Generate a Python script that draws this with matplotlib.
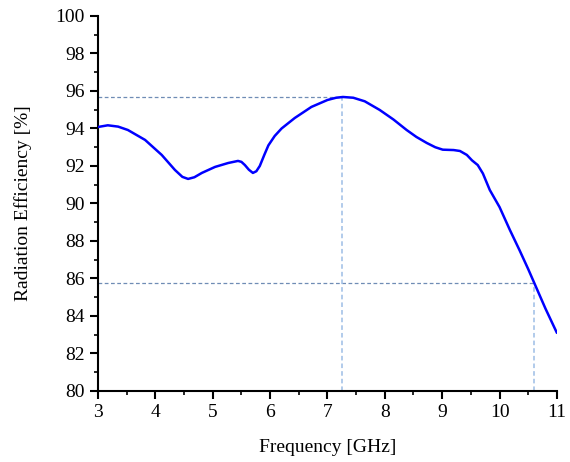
import numpy as np
import matplotlib.pyplot as plt
from matplotlib.ticker import MultipleLocator

# frequency [GHz] / radiation efficiency [%]
freq = [3.0, 3.17, 3.35, 3.52, 3.82, 4.11, 4.34, 4.47, 4.57, 4.68, 4.81, 5.04,
        5.27, 5.44, 5.5, 5.56, 5.63, 5.7, 5.76, 5.82, 5.9, 5.97, 6.08, 6.2,
        6.43, 6.72, 7.0, 7.15, 7.27, 7.45, 7.65, 7.91, 8.15, 8.38, 8.55, 8.73,
        8.88, 9.01, 9.2, 9.31, 9.43, 9.52, 9.62, 9.71, 9.83, 10.0, 10.18,
        10.35, 10.5, 10.65, 10.8, 11.0]
eff = [94.08, 94.17, 94.1, 93.92, 93.39, 92.59, 91.79, 91.42, 91.31, 91.4,
       91.63, 91.95, 92.16, 92.27, 92.22, 92.05, 91.8, 91.63, 91.72, 92.0,
       92.6, 93.1, 93.6, 94.0, 94.56, 95.15, 95.52, 95.64, 95.68, 95.64, 95.45,
       94.99, 94.48, 93.92, 93.55, 93.23, 93.0, 92.87, 92.85, 92.8, 92.59,
       92.3, 92.05, 91.6, 90.72, 89.81, 88.59, 87.5, 86.5, 85.45, 84.4, 83.1]

peak = (7.25, 95.68)
cut = (10.6, 85.76)

plt.rcParams['font.family'] = ['Liberation Serif', 'DejaVu Serif']

fig = plt.figure(figsize=(5.7, 4.62), dpi=100)
ax = fig.add_axes([0.172, 0.1537, 0.805, 0.8117])

ax.plot(freq, eff, color='#0000ff', lw=1.8, zorder=3,
        solid_joinstyle='round', solid_capstyle='round')

# guide lines
ax.plot([3, peak[0]], [peak[1], peak[1]], ls=(0, (3, 2)), color='#6f8cb5', lw=0.9)
ax.plot([3, cut[0]], [cut[1], cut[1]], ls=(0, (3, 2)), color='#6f8cb5', lw=0.9)
ax.plot([peak[0], peak[0]], [80, peak[1]], ls=(0, (3, 2)), color='#9dbde5', lw=1.1)
ax.plot([cut[0], cut[0]], [80, cut[1]], ls=(0, (3, 2)), color='#9dbde5', lw=1.1)

ax.set_xlim(3, 11)
ax.set_ylim(80, 100)
ax.xaxis.set_major_locator(MultipleLocator(1))
ax.xaxis.set_minor_locator(MultipleLocator(0.5))
ax.yaxis.set_major_locator(MultipleLocator(2))
ax.yaxis.set_minor_locator(MultipleLocator(1))

ax.spines['top'].set_visible(False)
ax.spines['right'].set_visible(False)
ax.spines['left'].set_linewidth(1.5)
ax.spines['bottom'].set_linewidth(1.5)
ax.tick_params(which='major', direction='out', length=6, width=1.5, labelsize=14)
ax.tick_params(which='minor', direction='out', length=3, width=1.2)

ax.set_xlabel('Frequency [GHz]', fontsize=14, labelpad=13)
ax.set_ylabel('Radiation Efficiency [%]', fontsize=14, labelpad=17)

fig.savefig('out.png', dpi=100)
